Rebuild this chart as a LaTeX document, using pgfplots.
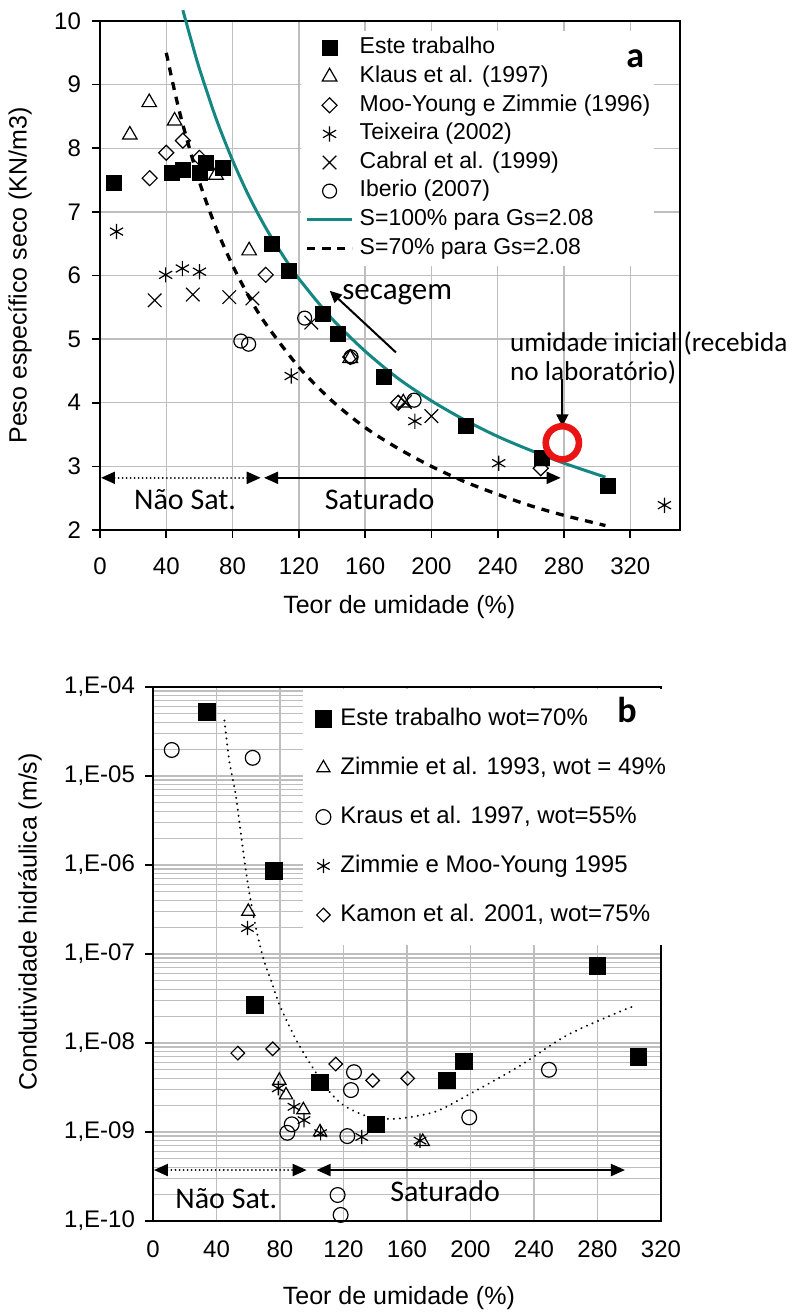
\documentclass[border=0pt]{standalone}
\usepackage{fontspec}
\setmainfont{Liberation Sans}
\newfontfamily\calib{Carlito}
\usepackage{pgfplots}
\pgfplotsset{compat=1.18}
\usetikzlibrary{arrows.meta}
\definecolor{tealline}{RGB}{20,135,130}
\definecolor{gridgray}{RGB}{190,190,190}
\definecolor{circred}{RGB}{235,20,20}
\begin{document}
\begin{tikzpicture}
\path[use as bounding box] (0,0) rectangle (396.5pt,657.5pt);
% ---------------- panel a ----------------
\begin{axis}[
  at={(50pt,392.5pt)}, anchor=south west,
  scale only axis, width=290pt, height=254.5pt,
  xmin=0, xmax=350, ymin=2, ymax=10,
  xtick={0,40,...,320}, ytick={2,3,...,10},
  xtick pos=left, ytick pos=left,
  grid=major, major grid style={gridgray, line width=0.7pt},
  axis line style={black, line width=0.8pt},
  tick align=outside, major tick length=4pt, tick style={black, line width=0.8pt},
  /pgf/number format/assume math mode=true,
  tick label style={font=\fontsize{12}{14}\selectfont},
  xticklabel style={yshift=-6.5pt},
  yticklabel style={xshift=-2pt},
  clip=false,
  xlabel={Teor de umidade (\%)}, ylabel={Peso específico seco (KN/m3)},
  label style={font=\fontsize{12.5}{15}\selectfont},
  xlabel style={at={(axis description cs:0.516,0)}, anchor=center, yshift=-38.5pt},
  ylabel style={at={(axis description cs:-0.138,0.5)}, anchor=center},
  legend cell align=left,
  legend image code/.code={\path[draw=none,fill=none] (0pt,-3pt) rectangle (22.5pt,3pt);
     \draw[mark repeat=2,mark phase=2,#1] plot coordinates {(0pt,0pt)(11.25pt,0pt)(22.5pt,0pt)};},
  legend style={at={(axis description cs:0.3466,0.9815)}, anchor=north west,
     fill=white, draw=none, inner xsep=2pt, inner ysep=3pt,
     font=\fontsize{11.5}{13}\selectfont, row sep=3pt,
     nodes={inner sep=0pt, text height=8.5pt, text depth=2.8pt},
     /tikz/every odd column/.append style={column sep=3pt}},
]
\addplot[only marks, mark=square*, mark size=3.75pt, black] coordinates {
(8.5,7.45) (43.6,7.61) (50,7.66) (60,7.61) (64,7.77) (74,7.69) (104,6.50) (114,6.08)
(134.5,5.40) (143.6,5.08) (171.5,4.41) (220.6,3.64) (266.7,3.13) (306.7,2.69)};
\addlegendentry{Este trabalho}
\addplot[only marks, mark=triangle, mark size=4.2pt, black, mark options={line width=0.6pt}] coordinates {
(18,8.21) (29.7,8.72) (45,8.43) (70,7.58) (90,6.39) (151,4.70) (183,4.00)};
\addlegendentry{Klaus et al. (1997)}
\addplot[only marks, mark=square, mark size=2.65pt, black, mark options={rotate=45, line width=0.6pt}] coordinates {
(30,7.53) (40,7.93) (50,8.12) (60,7.85) (100,6.01) (151,4.72) (180,4.00) (266,2.97)};
\addlegendentry{Moo-Young e Zimmie (1996)}
\addplot[only marks, mark=asterisk, mark size=3.8pt, black, mark options={line width=0.6pt}] coordinates {
(10,6.69) (39.6,6.01) (49.7,6.11) (60,6.06) (115.4,4.42) (190,3.71) (240.6,3.05) (340.6,2.39)};
\addlegendentry{Teixeira (2002)}
\addplot[only marks, mark=x, mark size=4.8pt, black, mark options={line width=0.6pt}] coordinates {
(33,5.61) (56,5.70) (78,5.66) (92,5.64) (127.5,5.26) (184,4.01) (200,3.79)};
\addlegendentry{Cabral et al. (1999)}
\addplot[only marks, mark=o, mark size=3.5pt, black, mark options={line width=0.6pt}] coordinates {
(85,4.97) (89.7,4.92) (123.5,5.33) (151.5,4.72) (189.5,4.04)};
\addlegendentry{Iberio (2007)}
\addplot[tealline, line width=1.5pt, smooth] coordinates {
(50,10.17) (55,9.70) (60,9.25) (70,8.47) (80,7.81) (90,7.24) (100,6.75) (110,6.33) (120,5.95)
(140,5.32) (160,4.81) (180,4.38) (200,4.03) (220,3.73) (240,3.47) (260,3.25) (280,3.05) (305,2.83)};
\addlegendentry{S=100\% para Gs=2.08}
\addplot[black, line width=1.65pt, dash pattern=on 4pt off 3.5pt, smooth] coordinates {
(40,9.50) (45,8.90) (50,8.37) (60,7.47) (70,6.75) (80,6.16) (90,5.66) (100,5.24) (120,4.56)
(140,4.03) (160,3.61) (180,3.28) (200,3.00) (220,2.76) (240,2.56) (260,2.38) (280,2.23) (305,2.07)};
\addlegendentry{S=70\% para Gs=2.08}
\addplot[only marks, mark=o, mark size=8.3pt, circred, mark options={line width=3.3pt}, forget plot] coordinates {(279,3.37)};
% annotations
\draw[-{Triangle[length=6pt,width=5.5pt]}, line width=1pt] (axis cs:178.6,4.79) -- (axis cs:138.6,5.76);
\node[anchor=base west, inner sep=0pt, font=\calib\fontsize{15.5}{18}\selectfont] at (axis cs:146,5.62) {secagem};
\draw[-{Triangle[length=6pt,width=6pt]}, line width=1pt] (axis cs:279,4.37) -- (axis cs:279,3.63);
\node[anchor=base west, inner sep=0pt, font=\calib\fontsize{13.6}{15}\selectfont] at (axis cs:247.3,4.80) {umidade inicial (recebida};
\node[anchor=base west, inner sep=0pt, font=\calib\fontsize{13.6}{15}\selectfont] at (axis cs:247.3,4.35) {no laboratório)};
\draw[{Triangle[length=7pt,width=6pt]}-{Triangle[length=7pt,width=6pt]}, line width=1pt, dash pattern=on 0.01pt off 2pt, line cap=round] (axis cs:0.6,2.82) -- (axis cs:97,2.82);
\draw[{Triangle[length=7pt,width=6pt]}-{Triangle[length=7pt,width=6pt]}, line width=1pt] (axis cs:99,2.82) -- (axis cs:278,2.82);
\node[anchor=base west, inner sep=0pt, font=\calib\fontsize{15}{18}\selectfont] at (axis cs:20.4,2.32) {Não Sat.};
\node[anchor=base west, inner sep=0pt, font=\calib\fontsize{15}{18}\selectfont] at (axis cs:135.5,2.32) {Saturado};
\end{axis}
% panel letter a (drawn over the legend box)
\node[anchor=base west, inner sep=0pt, font=\calib\bfseries\fontsize{18}{20}\selectfont] at (313pt,623.5pt) {a};
% ---------------- panel b ----------------
\begin{axis}[
  at={(76.5pt,47pt)}, anchor=south west,
  scale only axis, width=254pt, height=267pt,
  ymode=log, xmin=0, xmax=320, ymin=1e-10, ymax=1e-4,
  xtick={0,40,...,320},
  ytick={1e-10,1e-9,1e-8,1e-7,1e-6,1e-5,1e-4},
  yticklabels={{1,E-10},{1,E-09},{1,E-08},{1,E-07},{1,E-06},{1,E-05},{1,E-04}},
  minor ytick={2e-10,3e-10,4e-10,5e-10,6e-10,7e-10,8e-10,9e-10,
               2e-9,3e-9,4e-9,5e-9,6e-9,7e-9,8e-9,9e-9,
               2e-8,3e-8,4e-8,5e-8,6e-8,7e-8,8e-8,9e-8,
               2e-7,3e-7,4e-7,5e-7,6e-7,7e-7,8e-7,9e-7,
               2e-6,3e-6,4e-6,5e-6,6e-6,7e-6,8e-6,9e-6,
               2e-5,3e-5,4e-5,5e-5,6e-5,7e-5,8e-5,9e-5},
  xtick pos=left, ytick pos=left,
  xmajorgrids, ymajorgrids, yminorgrids,
  major grid style={gridgray, line width=0.7pt},
  minor grid style={gridgray, line width=0.6pt},
  axis line style={black, line width=0.8pt},
  tick align=outside, major tick length=4pt, minor tick length=0pt,
  ytick style={black, line width=0.8pt}, xtick style={draw=none},
  /pgf/number format/assume math mode=true,
  tick label style={font=\fontsize{12}{14}\selectfont},
  yticklabel style={xshift=-1.5pt},
  xticklabel style={yshift=-2.5pt},
  clip=false,
  xlabel={Teor de umidade (\%)}, ylabel={Condutividade hidráulica (m/s)},
  label style={font=\fontsize{12.5}{15}\selectfont},
  xlabel style={at={(axis description cs:0.484,0)}, anchor=center, yshift=-38.5pt},
  ylabel style={at={(axis description cs:-0.242,0.56)}, anchor=center},
  legend cell align=left,
  legend image code/.code={\path[draw=none,fill=none] (0pt,-3pt) rectangle (14pt,3pt);
     \draw[mark repeat=2,mark phase=2,#1] plot coordinates {(0pt,0pt)(7pt,0pt)(14pt,0pt)};},
  legend style={at={(axis description cs:0.2953,0.997)}, anchor=north west,
     fill=white, draw=none, inner xsep=3pt, inner ysep=9pt,
     font=\fontsize{12}{14}\selectfont, row sep=12.5pt,
     nodes={inner sep=0pt, text height=9pt, text depth=3pt},
     /tikz/every odd column/.append style={column sep=1.5pt}},
]
\addplot[only marks, mark=square*, mark size=4.2pt, black] coordinates {
(33.8,5.2e-5) (76.4,8.6e-7) (64.4,2.67e-8) (105.2,3.6e-9) (140.5,1.22e-9) (185,3.8e-9)
(196,6.2e-9) (279.9,7.3e-8) (305.7,7.0e-9)};
\addlegendentry{Este trabalho wot=70\%}
\addplot[only marks, mark=triangle, mark size=3.8pt, black, mark options={line width=0.6pt}] coordinates {
(60,3.0e-7) (79.6,3.8e-9) (83.8,2.6e-9) (94.7,1.77e-9) (105.2,1.0e-9) (169.9,7.8e-10)};
\addlegendentry{Zimmie et al. 1993, wot = 49\%}
\addplot[only marks, mark=o, mark size=3.7pt, black, mark options={line width=0.6pt}] coordinates {
(11.8,1.96e-5) (62.8,1.6e-5) (84.6,9.8e-10) (87.4,1.22e-9) (116.3,1.96e-10) (118.2,1.17e-10)
(122.4,9.0e-10) (124.7,2.96e-9) (126.6,4.7e-9) (199.2,1.46e-9) (249.4,5.0e-9)};
\addlegendentry{Kraus et al. 1997, wot=55\%}
\addplot[only marks, mark=asterisk, mark size=3.6pt, black, mark options={line width=0.6pt}] coordinates {
(59.5,1.96e-7) (78.9,3.1e-9) (88.8,1.92e-9) (95.1,1.36e-9) (105.6,9.7e-10) (131.5,8.8e-10) (168.2,8.0e-10)};
\addlegendentry{Zimmie e Moo-Young 1995}
\addplot[only marks, mark=square, mark size=2.4pt, black, mark options={rotate=45, line width=0.6pt}] coordinates {
(53.4,7.7e-9) (75.4,8.6e-9) (115.1,5.8e-9) (138.4,3.8e-9) (160.4,4.0e-9)};
\addlegendentry{Kamon et al. 2001, wot=75\%}
\addplot[black, line width=1.1pt, dash pattern=on 0.01pt off 3pt, line cap=round, smooth, forget plot] coordinates {
(45,4.2e-5) (48,1.5e-5) (52,6.3e-6) (55,2.5e-6) (58,1.0e-6) (61,4.5e-7) (65,1.9e-7) (70,8.3e-8)
(75,4.7e-8) (80,2.6e-8) (90,1.1e-8) (100,5.5e-9) (110,3.0e-9) (120,2.0e-9) (135,1.5e-9)
(150,1.4e-9) (165,1.5e-9) (180,1.75e-9) (200,2.7e-9) (230,5.4e-9) (260,1.2e-8) (290,2.1e-8) (303,2.6e-8)};
% annotations
\draw[{Triangle[length=7pt,width=6pt]}-{Triangle[length=7pt,width=6pt]}, line width=1pt, dash pattern=on 0.01pt off 2pt, line cap=round] (axis cs:0.6,3.74e-10) -- (axis cs:96.8,3.74e-10);
\draw[{Triangle[length=7pt,width=6pt]}-{Triangle[length=7pt,width=6pt]}, line width=1pt] (axis cs:103,3.74e-10) -- (axis cs:297.3,3.74e-10);
\node[anchor=base west, inner sep=0pt, font=\calib\fontsize{15}{18}\selectfont] at (axis cs:13.9,1.4e-10) {Não Sat.};
\node[anchor=base west, inner sep=0pt, font=\calib\fontsize{15}{18}\selectfont] at (axis cs:149.3,1.65e-10) {Saturado};
\end{axis}
% panel letter b (drawn over the legend box)
\node[anchor=base west, inner sep=0pt, font=\calib\bfseries\fontsize{18}{20}\selectfont] at (308.5pt,296pt) {b};
\end{tikzpicture}
\end{document}
